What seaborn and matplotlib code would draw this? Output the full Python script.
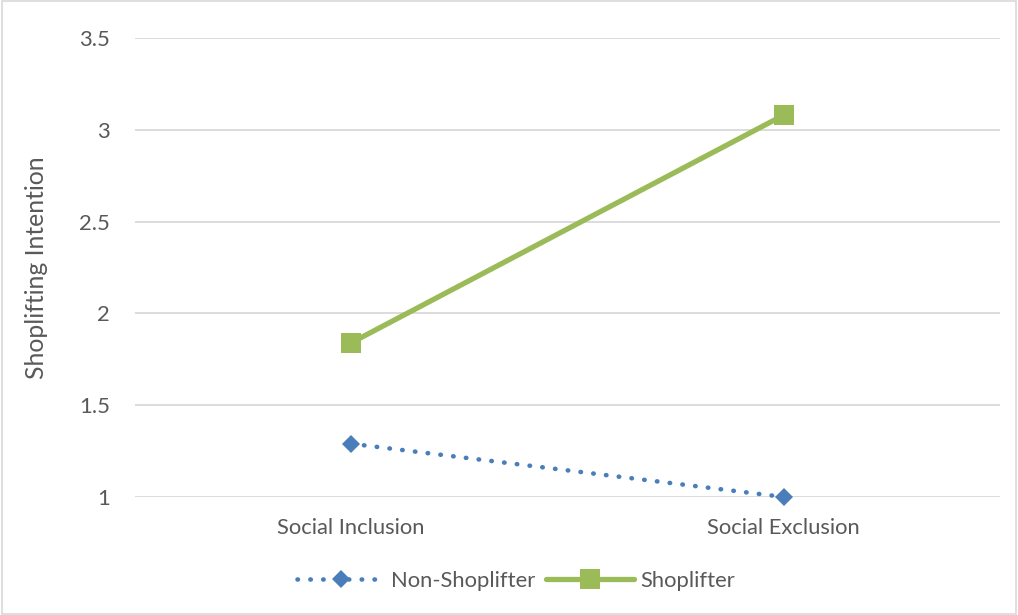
import matplotlib
matplotlib.use("Agg")
import matplotlib.pyplot as plt
import seaborn as sns
import pandas as pd
from matplotlib.lines import Line2D
from matplotlib.patches import Rectangle

conditions = ["Social Inclusion", "Social Exclusion"]
non_shoplifter = [1.29, 1.00]
shoplifter = [1.84, 3.08]
y_ticks = [1, 1.5, 2, 2.5, 3, 3.5]
y_tick_labels = ["1", "1.5", "2", "2.5", "3", "3.5"]

sns.set_theme(style="white")
plt.rcParams["font.family"] = ["Lato", "DejaVu Sans"]

text_color = "#595959"
grid_color = "#d9d9d9"
blue = "#4a7ebb"
green = "#9bbb59"

df = pd.DataFrame({
    "Condition": conditions * 2,
    "Intention": non_shoplifter + shoplifter,
    "Group": ["Non-Shoplifter"] * 2 + ["Shoplifter"] * 2,
})

dot_style = (0, (0.1, 2.7))

fig = plt.figure(figsize=(10.18, 6.15), dpi=100)
ax = fig.add_axes([0.1326, 0.1919, 0.8497, 0.7463])

sns.lineplot(data=df[df.Group == "Non-Shoplifter"], x="Condition", y="Intention",
             color=blue, linewidth=3.3, linestyle=dot_style,
             dash_capstyle="round", marker="D", markersize=9,
             markeredgewidth=0, ax=ax, legend=False, zorder=3, clip_on=False)
sns.lineplot(data=df[df.Group == "Shoplifter"], x="Condition", y="Intention",
             color=green, linewidth=3.8, marker="s", markersize=14,
             markeredgewidth=0, ax=ax, legend=False, zorder=3, clip_on=False)

ax.set_xlim(-0.5, 1.5)
ax.set_ylim(1, 3.5)
ax.set_yticks(y_ticks)
ax.set_yticklabels(y_tick_labels)
ax.yaxis.grid(True, color=grid_color, linewidth=1.3)
ax.set_axisbelow(True)
for s in ax.spines.values():
    s.set_visible(False)
ax.tick_params(axis="both", length=0, labelsize=15.8, labelcolor=text_color)
ax.tick_params(axis="y", pad=18)
ax.tick_params(axis="x", pad=15)
ax.set_xlabel("")
ax.set_ylabel("Shoplifting Intention", fontsize=17.8, color=text_color)
ax.yaxis.set_label_coords(-0.101, 0.5)

handles = [
    Line2D([], [], color=blue, linewidth=3.3, linestyle=dot_style,
           dash_capstyle="round", marker="D", markersize=9, markeredgewidth=0),
    Line2D([], [], color=green, linewidth=3.8, marker="s", markersize=14,
           markeredgewidth=0),
]
fig.legend(handles, ["Non-Shoplifter", "Shoplifter"], loc="center",
           bbox_to_anchor=(0.507, 0.056), ncol=2, frameon=False,
           fontsize=15.8, labelcolor=text_color, handlelength=4.0,
           handletextpad=0.3, columnspacing=0.5)

fig.patches.append(Rectangle((0.002, 0.002), 0.996, 0.996, transform=fig.transFigure,
                             fill=False, edgecolor=grid_color, linewidth=1.2))

fig.savefig("out.png", dpi=100)
